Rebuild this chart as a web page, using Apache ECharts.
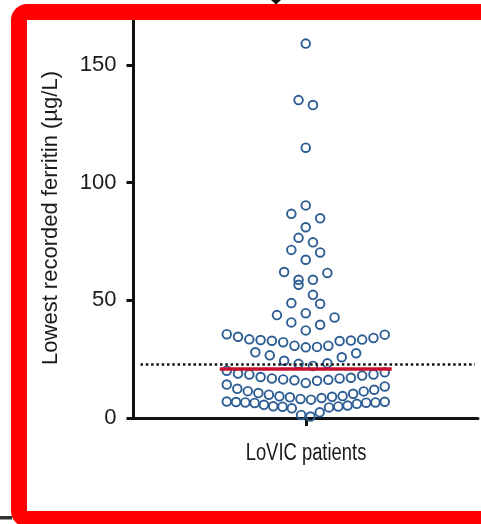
<!DOCTYPE html>
<html>
<head>
<meta charset="utf-8">
<script src="https://cdn.jsdelivr.net/npm/echarts@6/dist/echarts.min.js"></script>
<style>
  html, body { margin: 0; padding: 0; background: #ffffff; }
  #chart { width: 481px; height: 524px; }
</style>
</head>
<body>
<div id="chart"></div>
<script>
// Lowest recorded ferritin per patient (µg/L)
const ferritinValues = [
  0.6, 1.3, 2.4, 4.1, 4.5, 4.8, 4.9, 5.0, 5.3, 5.6, 6.0, 6.4, 6.5, 6.6, 6.6, 6.8, 6.9, 7.0,
  7.8, 8.1, 8.5, 8.8, 9.0, 9.2, 9.3, 9.9, 10.3, 10.6, 11.3, 11.4, 12.0, 12.4, 13.4, 14.2,
  14.9, 15.8, 16.0, 16.2, 16.4, 16.8, 16.8, 17.1, 17.4, 18.0, 18.5, 18.5, 18.9, 19.4, 20.1,
  22.1, 23.0, 23.2, 24.3, 25.8, 26.6, 27.5, 27.9,
  30.0, 30.2, 30.7, 30.7, 32.2, 32.7, 32.8, 32.9, 33.1, 33.3, 33.4, 34.0, 34.5, 35.4, 35.6,
  37.2, 39.6, 40.6, 42.7, 43.7, 44.5, 48.5, 48.8, 52.3, 56.6, 58.7, 58.7, 61.6, 62.0,
  67.2, 70.3, 71.4, 74.6, 76.5, 81.0, 84.8, 86.7, 90.3, 114.8, 132.9, 135.0, 159.0
];
const medianFerritin = 21;
const thresholdFerritin = 23;
const yTickValues = [0, 50, 100, 150];
const groupLabel = 'LoVIC patients';
const yAxisTitle = 'Lowest recorded ferritin (\u00b5g/L)';

const POINT_BLUE = '#2c5d94';
const MEDIAN_RED = '#c8102e';
const AXIS_BLACK = '#111111';
const TEXT_FONT = '"Liberation Sans", Arial, sans-serif';

const chart = echarts.init(document.getElementById('chart'), null, { renderer: 'canvas' });

chart.setOption({
  animation: false,
  backgroundColor: '#ffffff',
  grid: { left: 133.5, right: 3, top: 13, bottom: 106, containLabel: false },
  xAxis: {
    type: 'value', min: -1, max: 1,
    axisLine: { show: true, onZero: false, lineStyle: { color: AXIS_BLACK, width: 3 } },
    axisTick: { show: true, customValues: [0], length: 8, lineStyle: { color: AXIS_BLACK, width: 3 } },
    axisLabel: { show: false },
    splitLine: { show: false }
  },
  yAxis: {
    type: 'value', min: 0, max: 172, interval: 50,
    axisLine: { show: true, onZero: false, lineStyle: { color: AXIS_BLACK, width: 3 } },
    axisTick: { show: true, customValues: yTickValues, length: 7, lineStyle: { color: AXIS_BLACK, width: 3 } },
    axisLabel: {
      customValues: yTickValues, margin: 17,
      fontFamily: TEXT_FONT, fontSize: 22, color: '#1a1a1a'
    },
    splitLine: { show: false }
  },
  graphic: [
    { // axis titles
      type: 'text', silent: true, z: 50,
      x: 51, y: 218, rotation: Math.PI / 2,
      style: { text: yAxisTitle, font: '22px ' + TEXT_FONT, fill: '#1a1a1a', align: 'center', verticalAlign: 'middle' }
    },
    {
      type: 'text', silent: true, z: 50,
      x: 306, y: 454, scaleX: 0.8,
      style: { text: groupLabel, font: '23px ' + TEXT_FONT, fill: '#1a1a1a', align: 'center', verticalAlign: 'middle' }
    },
    { // red frame around the panel
      type: 'rect', z: 100, silent: true,
      shape: { x: 19, y: 12, width: 500, height: 507, r: 8 },
      style: { fill: 'none', stroke: '#ff0000', lineWidth: 16 }
    },
    { // pointer tip above the frame
      type: 'polygon', z: 101, silent: true,
      shape: { points: [[271, 0], [281, 0], [276, 4.5]] },
      style: { fill: '#111111' }
    },
    { // rule fragment at the lower left
      type: 'rect', z: 99, silent: true,
      shape: { x: 0, y: 516, width: 12, height: 3.5 },
      style: { fill: '#333333' }
    }
  ],
  series: []
});

// Prism-style column scatter: values are grouped into horizontal bands,
// each band is sorted and spread outward from the centre line.
const BAND = 7.3;        // band height in data units
const GAP_PX = 14.4;     // preferred horizontal spacing between points
const MAX_SPAN_PX = 158; // widest allowed band

function swarmOffsets(values) {
  const bands = new Map();
  values.forEach(v => {
    const k = Math.floor(v / BAND);
    if (!bands.has(k)) bands.set(k, []);
    bands.get(k).push(v);
  });
  const out = [];
  bands.forEach(row => {
    row.sort((a, b) => a - b);
    const n = row.length;
    const step = n > 1 ? Math.min(GAP_PX, MAX_SPAN_PX / (n - 1)) : 0;
    row.forEach((v, i) => {
      let slot;
      if (n % 2) slot = i === 0 ? 0 : Math.ceil(i / 2) * (i % 2 ? 1 : -1);
      else slot = (Math.floor(i / 2) + 0.5) * (i % 2 ? -1 : 1);
      out.push([slot * step, v]);
    });
  });
  return out;
}

const x0 = chart.convertToPixel({ xAxisIndex: 0 }, 0);
const x1 = chart.convertToPixel({ xAxisIndex: 0 }, 1);
const unitsPerPx = 1 / (x1 - x0);
const points = swarmOffsets(ferritinValues).map(([dx, v]) => [dx * unitsPerPx, v]);

const medianHalf = (MAX_SPAN_PX / 2 + 7) * unitsPerPx;
const refLeft = -1 + 7 * unitsPerPx;
const refRight = 1 - 3 * unitsPerPx;

chart.setOption({
  series: [{
    type: 'scatter',
    data: points,
    symbol: 'circle',
    symbolSize: 8.6,
    silent: true,
    z: 3,
    itemStyle: { color: 'rgba(0,0,0,0)', borderColor: POINT_BLUE, borderWidth: 1.9, opacity: 1 },
    markLine: {
      silent: true,
      symbol: 'none',
      label: { show: false },
      data: [
        [
          { coord: [-medianHalf, medianFerritin], lineStyle: { color: MEDIAN_RED, width: 3.5, type: 'solid' } },
          { coord: [medianHalf, medianFerritin] }
        ],
        [
          { coord: [refLeft, thresholdFerritin], lineStyle: { color: '#111111', width: 2.5, type: [2.5, 2.8] } },
          { coord: [refRight, thresholdFerritin] }
        ]
      ]
    }
  }]
});
</script>
</body>
</html>
